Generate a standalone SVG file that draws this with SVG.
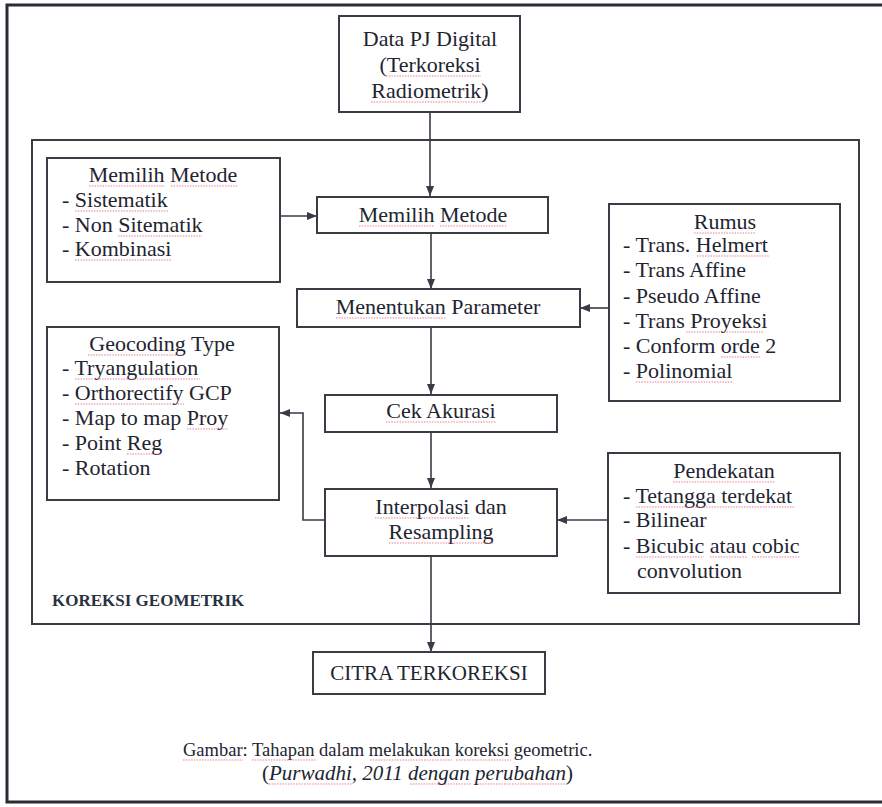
<svg xmlns="http://www.w3.org/2000/svg" width="882" height="807" viewBox="0 0 882 807">
  <style>
    .box { fill: #ffffff; stroke: #3a3b44; stroke-width: 2; }
    .frame { fill: none; stroke: #2a2b33; stroke-width: 3; }
    .line { fill: none; stroke: #3a3b44; stroke-width: 1.6; }
    .t { font-family: "Liberation Serif", "Times New Roman", serif; font-size: 22px; fill: #1e2430; }
    .c { text-anchor: middle; }
    .lbl { font-family: "Liberation Serif", "Times New Roman", serif; font-size: 17px; font-weight: bold; fill: #2a3140; }
    .cap { font-family: "Liberation Serif", "Times New Roman", serif; font-size: 18.5px; fill: #1e2430; }
    .sp { fill: none; stroke: #e3607c; stroke-width: 1.1; stroke-dasharray: 1.5 1.2; opacity: 0.8; }
  </style>
  <defs>
    <marker id="arrow" markerWidth="10" markerHeight="8" refX="10" refY="4" orient="auto" markerUnits="userSpaceOnUse">
      <path d="M0,0 L10,4 L0,8 z" fill="#3a3b44"/>
    </marker>
  </defs>

  <rect width="882" height="807" fill="#ffffff"/>

  <!-- page frame (open at the right edge) -->
  <path class="frame" d="M886,5 H7 V802 H886"/>

  <!-- KOREKSI GEOMETRIK container -->
  <g id="koreksi-geometrik">
    <rect class="box" x="32" y="140" width="827" height="484"/>
    <text class="lbl" x="52" y="606">KOREKSI GEOMETRIK</text>
  </g>

  <!-- connectors -->
  <g id="connectors">
    <path class="line" d="M430,112 V196" marker-end="url(#arrow)"/>
    <path class="line" d="M280,216 H317" marker-end="url(#arrow)"/>
    <path class="line" d="M431,233 V289" marker-end="url(#arrow)"/>
    <path class="line" d="M609,308 H580" marker-end="url(#arrow)"/>
    <path class="line" d="M431,327 V394" marker-end="url(#arrow)"/>
    <path class="line" d="M431,432 V488" marker-end="url(#arrow)"/>
    <path class="line" d="M325,520 H303 V413 H280" marker-end="url(#arrow)"/>
    <path class="line" d="M608,520 H557" marker-end="url(#arrow)"/>
    <path class="line" d="M431,556 V652" marker-end="url(#arrow)"/>
  </g>

  <g id="data-pj-digital">
    <rect class="box" x="339" y="16" width="181" height="96"/>
    <text class="t c" x="430" y="46">Data PJ Digital</text>
    <text class="t c" x="430" y="72">(Terkoreksi</text>
    <text class="t c" x="430" y="98">Radiometrik)</text>
    <path class="sp" d="M386,76 H481 M371,102 H481"/>
  </g>

  <g id="pilihan-metode">
    <rect class="box" x="47" y="158" width="233" height="124"/>
    <text class="t c" x="163" y="182">Memilih Metode</text>
    <text class="t" x="62" y="207">- Sistematik</text>
    <text class="t" x="62" y="232">- Non Sitematik</text>
    <text class="t" x="62" y="256">- Kombinasi</text>
    <path class="sp" d="M89,186 H165 M171,186 H237 M75,211 H168 M118,236 H202 M75,260 H171"/>
  </g>

  <g id="memilih-metode">
    <rect class="box" x="317" y="197" width="231" height="36"/>
    <text class="t c" x="433" y="222">Memilih Metode</text>
    <path class="sp" d="M359,226 H434 M440,226 H507"/>
  </g>

  <g id="menentukan-parameter">
    <rect class="box" x="297" y="289" width="283" height="38"/>
    <text class="t c" x="438" y="314">Menentukan Parameter</text>
    <path class="sp" d="M336,318 H446"/>
  </g>

  <g id="rumus">
    <rect class="box" x="609" y="204" width="231" height="197"/>
    <text class="t c" x="725" y="229">Rumus</text>
    <text class="t" x="623" y="252">- Trans. Helmert</text>
    <text class="t" x="623" y="277">- Trans Affine</text>
    <text class="t" x="623" y="303">- Pseudo Affine</text>
    <text class="t" x="623" y="328">- Trans Proyeksi</text>
    <text class="t" x="623" y="353">- Conform orde 2</text>
    <text class="t" x="623" y="378">- Polinomial</text>
    <path class="sp" d="M694,233 H756 M697,256 H769 M686,332 H763 M721,357 H760 M636,382 H732"/>
  </g>

  <g id="geocoding-type">
    <rect class="box" x="47" y="327" width="232" height="173"/>
    <text class="t c" x="162" y="351">Geocoding Type</text>
    <text class="t" x="62" y="375">- Tryangulation</text>
    <text class="t" x="62" y="400">- Orthorectify GCP</text>
    <text class="t" x="62" y="425">- Map to map Proy</text>
    <text class="t" x="62" y="450">- Point Reg</text>
    <text class="t" x="62" y="475">- Rotation</text>
    <path class="sp" d="M88,355 H185 M75,379 H200 M75,404 H184 M187,429 H228 M127,454 H162"/>
  </g>

  <g id="cek-akurasi">
    <rect class="box" x="325" y="395" width="232" height="37"/>
    <text class="t c" x="441" y="418">Cek Akurasi</text>
    <path class="sp" d="M386,422 H496"/>
  </g>

  <g id="interpolasi-resampling">
    <rect class="box" x="325" y="489" width="232" height="67"/>
    <text class="t c" x="441" y="514">Interpolasi dan</text>
    <text class="t c" x="441" y="539">Resampling</text>
    <path class="sp" d="M375,518 H469 M389,543 H494"/>
  </g>

  <g id="pendekatan">
    <rect class="box" x="608" y="453" width="232" height="140"/>
    <text class="t c" x="724" y="478">Pendekatan</text>
    <text class="t" x="623" y="503">- Tetangga terdekat</text>
    <text class="t" x="623" y="527">- Bilinear</text>
    <text class="t" x="623" y="553">- Bicubic atau cobic</text>
    <text class="t" x="637" y="578">convolution</text>
    <path class="sp" d="M673,482 H775 M636,507 H794 M636,557 H704 M710,557 H747 M752,557 H800"/>
  </g>

  <g id="citra-terkoreksi">
    <rect class="box" x="313" y="652" width="232" height="42"/>
    <text class="t c" x="429" y="680" style="font-size:21px">CITRA TERKOREKSI</text>
  </g>

  <g id="caption">
    <text class="cap" x="183" y="756">Gambar: Tahapan dalam melakukan koreksi geometric.</text>
    <text class="cap" x="262" y="780" style="font-size:21px">(<tspan font-style="italic">Purwadhi, 2011 dengan perubahan</tspan>)</text>
    <path class="sp" d="M183,760 H243 M252,760 H316 M370,760 H452 M456,760 H511 M269,784 H352 M410,784 H471 M477,784 H568"/>
  </g>
</svg>
